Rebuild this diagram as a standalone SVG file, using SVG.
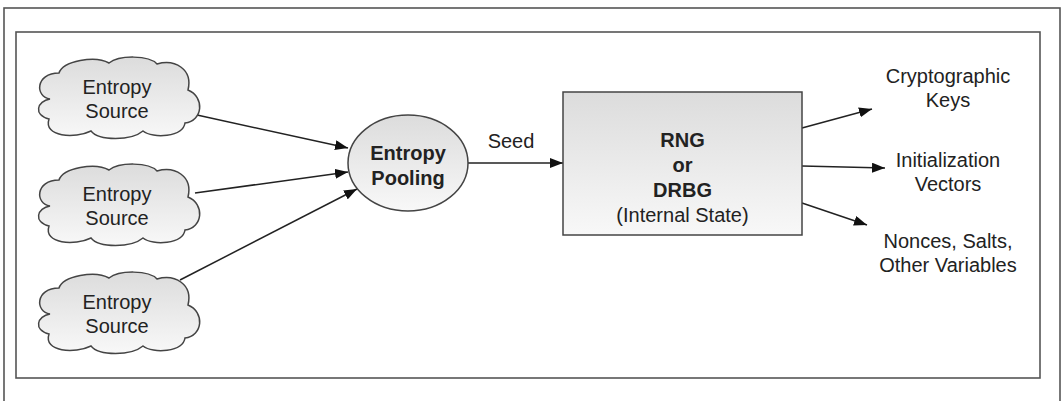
<svg xmlns="http://www.w3.org/2000/svg" width="1061" height="401" viewBox="0 0 1061 401">
<style>
.frame{fill:none;stroke:#555;stroke-width:1.6}
.shape{stroke:#444;stroke-width:1.5}
.t{font-family:"Liberation Sans",Arial,sans-serif;font-size:20px;fill:#222;text-anchor:middle}
.b{font-weight:bold}
.conn{stroke:#222;stroke-width:1.5;fill:none;marker-end:url(#ah)}
</style>
<defs>
<linearGradient id="g" x1="0" y1="0" x2="0" y2="1">
<stop offset="0" stop-color="#dcdcdc"/>
<stop offset="1" stop-color="#f8f8f8"/>
</linearGradient>
<marker id="ah" markerUnits="userSpaceOnUse" markerWidth="14" markerHeight="10" refX="13" refY="5" orient="auto">
<path d="M0,0 L13,5 L0,10 Z" fill="#111"/>
</marker>
<path id="cloud" d="M15,42 C0,40 0,16 24,16 C28,4 60,-2 74,6 C84,-2 114,-2 122,7 C140,2 158,12 153,33 C170,40 168,64 150,66 C148,80 118,82 108,74 C96,84 64,84 56,74 C40,82 8,80 14,62 C-2,58 2,44 15,42 Z"/>
</defs>
<rect class="frame" x="4" y="8" width="1056" height="400"/>
<rect class="frame" x="16" y="32" width="1024" height="346"/>
<g id="connectors">
<line class="conn" x1="197" y1="115" x2="348" y2="148"/>
<line class="conn" x1="195" y1="193" x2="348" y2="172"/>
<line class="conn" x1="180" y1="280" x2="357" y2="189"/>
<line class="conn" x1="468" y1="163" x2="563" y2="163"/>
<line class="conn" x1="802" y1="128" x2="872" y2="109"/>
<line class="conn" x1="802" y1="166" x2="885" y2="168"/>
<line class="conn" x1="802" y1="203" x2="867" y2="225"/>
<text class="t" x="511" y="148">Seed</text>
</g>
<g id="source1" transform="translate(35,57)">
<use href="#cloud" class="shape" fill="url(#g)"/>
<text class="t" x="82" y="37">Entropy</text>
<text class="t" x="82" y="61">Source</text>
</g>
<g id="source2" transform="translate(35,164)">
<use href="#cloud" class="shape" fill="url(#g)"/>
<text class="t" x="82" y="37">Entropy</text>
<text class="t" x="82" y="61">Source</text>
</g>
<g id="source3" transform="translate(35,272)">
<use href="#cloud" class="shape" fill="url(#g)"/>
<text class="t" x="82" y="37">Entropy</text>
<text class="t" x="82" y="61">Source</text>
</g>
<g id="pooling">
<ellipse class="shape" cx="408" cy="163" rx="60" ry="48" fill="url(#g)"/>
<text class="t b" x="408" y="160">Entropy</text>
<text class="t b" x="408" y="185">Pooling</text>
</g>
<g id="rng">
<rect class="shape" x="563" y="92" width="239" height="143" fill="url(#g)"/>
<text class="t b" x="682.5" y="147">RNG</text>
<text class="t b" x="682.5" y="172">or</text>
<text class="t b" x="682.5" y="197">DRBG</text>
<text class="t" x="682.5" y="222">(Internal State)</text>
</g>
<g id="keys">
<text class="t" x="948" y="83">Cryptographic</text>
<text class="t" x="948" y="107">Keys</text>
</g>
<g id="ivs">
<text class="t" x="948" y="167">Initialization</text>
<text class="t" x="948" y="191">Vectors</text>
</g>
<g id="nonces">
<text class="t" x="948" y="248">Nonces, Salts,</text>
<text class="t" x="948" y="272">Other Variables</text>
</g>
</svg>
